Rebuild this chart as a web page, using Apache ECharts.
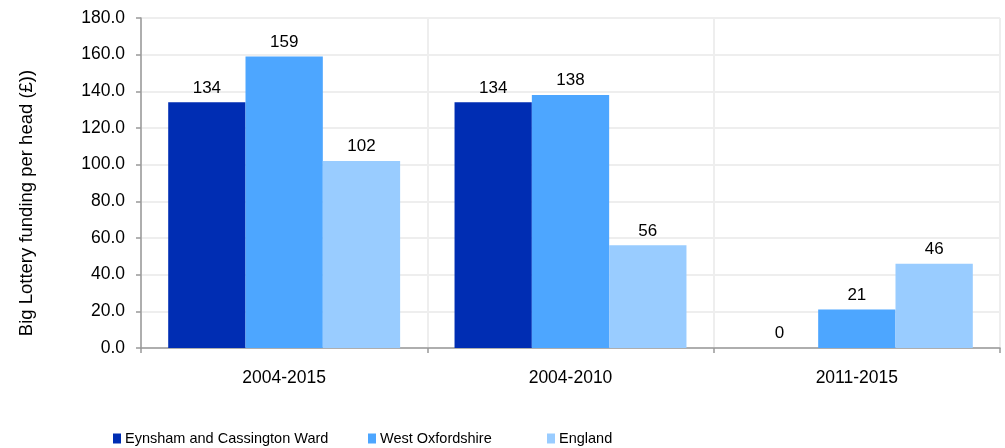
<!DOCTYPE html>
<html><head><meta charset="utf-8">
<script src="https://cdn.jsdelivr.net/npm/echarts@6/dist/echarts.min.js"></script>
<style>html,body{margin:0;padding:0;background:#fff}#c{width:1005px;height:448px}</style>
</head><body><div id="c"></div>
<script>
const categories = ['2004-2015', '2004-2010', '2011-2015'];
const seriesNames = ['Eynsham and Cassington Ward', 'West Oxfordshire', 'England'];
const eynsham = [134, 134, 0];
const westOxon = [159, 138, 21];
const england = [102, 56, 46];
const colors = ['#002DB3', '#4DA6FF', '#99CCFF'];
const yTitle = 'Big Lottery funding per head (£))';

const font = 'Liberation Sans, Arial, sans-serif';
const chart = echarts.init(document.getElementById('c'));
const values = [eynsham, westOxon, england];
chart.setOption({
  animation: false,
  color: colors,
  grid: { left: 141, right: 5, top: 18, bottom: 100 },
  legend: seriesNames.map((n, i) => ({
    data: [n], top: 431, left: [113, 368, 547][i], padding: 0,
    icon: 'rect', itemWidth: 8, itemHeight: 10, itemGap: 0,
    textStyle: { fontFamily: font, fontSize: 14.5, color: '#000', padding: [0, 0, 0, -1] }
  })),
  graphic: [{
    type: 'text', x: 17, y: 203, rotation: Math.PI / 2,
    style: { text: yTitle, fill: '#000', font: '18.5px ' + font, align: 'center', verticalAlign: 'top' }
  }],
  xAxis: {
    type: 'category', data: categories,
    axisLine: { lineStyle: { color: '#999', width: 1.5 } },
    axisTick: { show: true, length: 5, lineStyle: { color: '#999', width: 1.5 } },
    axisLabel: { color: '#000', fontFamily: font, fontSize: 17.5, margin: 21 },
    splitLine: { show: true, lineStyle: { color: '#eeeeee', width: 2 } }
  },
  yAxis: {
    type: 'value', min: 0, max: 180, interval: 20,
    axisLine: { show: true, lineStyle: { color: '#999', width: 1.5 } },
    axisTick: { show: true, length: 5, lineStyle: { color: '#999', width: 1.5 } },
    axisLabel: { color: '#000', fontFamily: font, fontSize: 17.5, margin: 16, formatter: v => v.toFixed(1) },
    splitLine: { show: true, lineStyle: { color: '#eeeeee', width: 2 } }
  },
  series: seriesNames.map((n, i) => ({
    name: n, type: 'bar', data: values[i],
    barGap: '0%', barCategoryGap: '19%',
    label: { show: true, position: 'top', color: '#000', fontFamily: font, fontSize: 17, distance: 6 }
  }))
});
</script></body></html>
